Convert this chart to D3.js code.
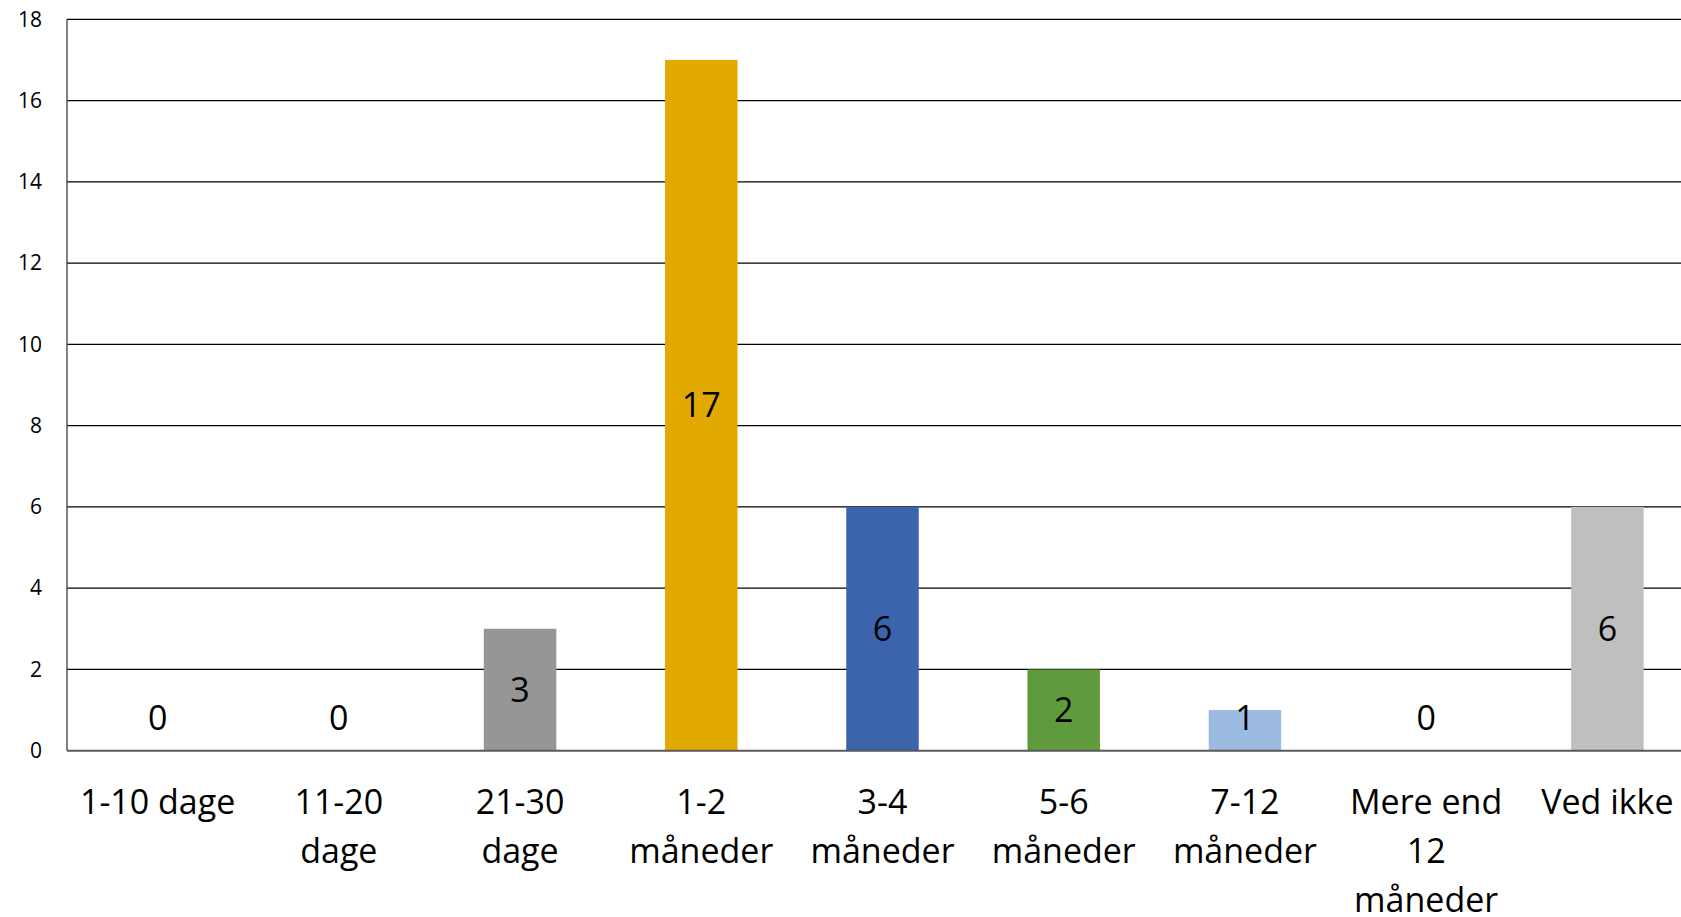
<!DOCTYPE html>
<html>
<head>
<meta charset="utf-8">
<script src="https://cdn.jsdelivr.net/npm/d3@7"></script>
<style>
    html, body { margin: 0; padding: 0; background: #fff; overflow: hidden; }
    svg { display: block; font-family: "Open Sans", sans-serif; }
</style>
</head>
<body>
<script>
// chart data
const category_lines = [
    ["1-10 dage"],
    ["11-20", "dage"],
    ["21-30", "dage"],
    ["1-2", "måneder"],
    ["3-4", "måneder"],
    ["5-6", "måneder"],
    ["7-12", "måneder"],
    ["Mere end", "12", "måneder"],
    ["Ved ikke"]
];
const categories = category_lines.map(l => l.join(" "));
const values = [0, 0, 3, 17, 6, 2, 1, 0, 6];
const bar_colours = ["#969696", "#969696", "#969696", "#E2AA00", "#3C64AD", "#5F9A3D", "#9BBBE1", "#BFBFBF", "#BFBFBF"];
const y_ticks = [0, 2, 4, 6, 8, 10, 12, 14, 16, 18];

const width = 1681;
const height = 917;
const margin = { left: 67, top: 19.3, bottom: 166.3 };
const plot_right = 1698; // last band runs past the picture edge

const svg = d3.select("body")
    .append("svg")
    .attr("width", width)
    .attr("height", height);

const x = d3.scaleBand()
    .domain(categories)
    .range([margin.left, plot_right])
    .paddingInner(0.6)
    .paddingOuter(0.3);

const y = d3.scaleLinear()
    .domain([0, 18])
    .range([height - margin.bottom, margin.top]);

// gridlines
svg.append("g")
    .attr("class", "grid")
    .selectAll("line")
    .data(y_ticks.filter(t => t > 0))
    .join("line")
    .attr("x1", margin.left)
    .attr("x2", width)
    .attr("y1", d => y(d))
    .attr("y2", d => y(d))
    .attr("stroke", "#000")
    .attr("stroke-width", 1.3);

// bars
svg.append("g")
    .attr("class", "bars")
    .selectAll("rect")
    .data(values)
    .join("rect")
    .attr("x", (d, i) => x(categories[i]))
    .attr("width", x.bandwidth())
    .attr("y", d => y(d))
    .attr("height", d => y(0) - y(d))
    .attr("fill", (d, i) => bar_colours[i]);

// axes lines
svg.append("line")
    .attr("x1", margin.left)
    .attr("x2", margin.left)
    .attr("y1", y(18))
    .attr("y2", y(0))
    .attr("stroke", "#404040")
    .attr("stroke-width", 1.3);
svg.append("line")
    .attr("x1", margin.left)
    .attr("x2", width)
    .attr("y1", y(0))
    .attr("y2", y(0))
    .attr("stroke", "#595959")
    .attr("stroke-width", 2);

// y tick labels
const y_axis = d3.axisLeft(y)
    .tickValues(y_ticks)
    .tickSize(0)
    .tickPadding(25);
svg.append("g")
    .attr("transform", `translate(${margin.left},0)`)
    .call(y_axis)
    .call(g => g.select(".domain").remove())
    .selectAll("text")
    .attr("font-family", "Open Sans, sans-serif")
    .attr("font-size", 21)
    .attr("fill", "#000");

// value labels, centred in the bar but kept clear of the base
svg.append("g")
    .attr("class", "labels")
    .selectAll("text")
    .data(values)
    .join("text")
    .attr("x", (d, i) => x(categories[i]) + x.bandwidth() / 2)
    .attr("y", d => Math.min(y(d / 2), y(0) - 33) + 12)
    .attr("text-anchor", "middle")
    .attr("font-size", 34)
    .attr("fill", "#000")
    .text(d => d);

// category labels
const cat = svg.append("g")
    .attr("class", "categories")
    .selectAll("text")
    .data(category_lines)
    .join("text")
    .attr("text-anchor", "middle")
    .attr("font-size", 34)
    .attr("fill", "#000");
cat.selectAll("tspan")
    .data((d, i) => d.map(line => ({ line, i })))
    .join("tspan")
    .attr("x", d => x(categories[d.i]) + x.bandwidth() / 2)
    .attr("y", (d, j) => y(0) + 63 + j * 49)
    .text(d => d.line);
</script>
</body>
</html>
